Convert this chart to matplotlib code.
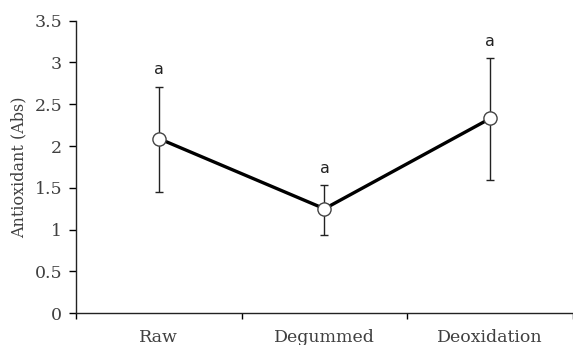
import matplotlib
matplotlib.use("Agg")
import matplotlib.pyplot as plt
from matplotlib.ticker import FixedLocator, NullFormatter

categories = ["Raw", "Degummed", "Deoxidation"]
means = [2.09, 1.25, 2.33]
err_low = [0.64, 0.31, 0.74]
err_high = [0.62, 0.28, 0.72]
sig_letters = ["a", "a", "a"]
y_ticks = [0, 0.5, 1, 1.5, 2, 2.5, 3, 3.5]
y_tick_labels = ["0", "0.5", "1", "1.5", "2", "2.5", "3", "3.5"]

fig = plt.figure(figsize=(5.73, 3.45), dpi=100)
ax = fig.add_axes([0.1326, 0.092, 0.8674, 0.848])

xs = [i + 0.5 for i in range(len(categories))]
ax.plot(xs, means, color="black", lw=2.4, zorder=2)
ax.errorbar(xs, means, yerr=[err_low, err_high], fmt="none", ecolor="#222222",
            elinewidth=1.0, capsize=3, capthick=1.0, zorder=1)
ax.plot(xs, means, linestyle="none", marker="o", ms=9.5, mfc="white",
        mec="#444444", mew=1.0, zorder=3)

for x, m, e, s in zip(xs, means, err_high, sig_letters):
    ax.annotate(s, (x, m + e), xytext=(0, 7), textcoords="offset points",
                ha="center", va="bottom", fontsize=11.5, family="DejaVu Sans",
                color="#222222")

ax.set_xlim(0, len(categories))
ax.set_ylim(0, 3.5)
ax.set_yticks(y_ticks)
ax.set_yticklabels(y_tick_labels)
ax.xaxis.set_major_locator(FixedLocator(range(len(categories) + 1)))
ax.xaxis.set_major_formatter(NullFormatter())
ax.xaxis.set_minor_locator(FixedLocator(xs))
ax.set_xticklabels(categories, minor=True)
ax.tick_params(axis="x", which="minor", length=0, pad=11)
ax.tick_params(axis="x", which="major", length=4, direction="out", width=1.0)
ax.tick_params(axis="y", length=5, direction="out", width=1.0, pad=5)

for lab in ax.get_yticklabels() + ax.get_xticklabels(minor=True):
    lab.set_family("DejaVu Serif")
    lab.set_fontsize(12.5)
    lab.set_color("#404040")

ax.set_ylabel("Antioxidant (Abs)", family="DejaVu Serif", fontsize=11.5,
              color="#404040", labelpad=5)

for side in ("top", "right"):
    ax.spines[side].set_visible(False)
for side in ("left", "bottom"):
    ax.spines[side].set_linewidth(1.0)
    ax.spines[side].set_color("#222222")

fig.savefig("out.png", dpi=100)
